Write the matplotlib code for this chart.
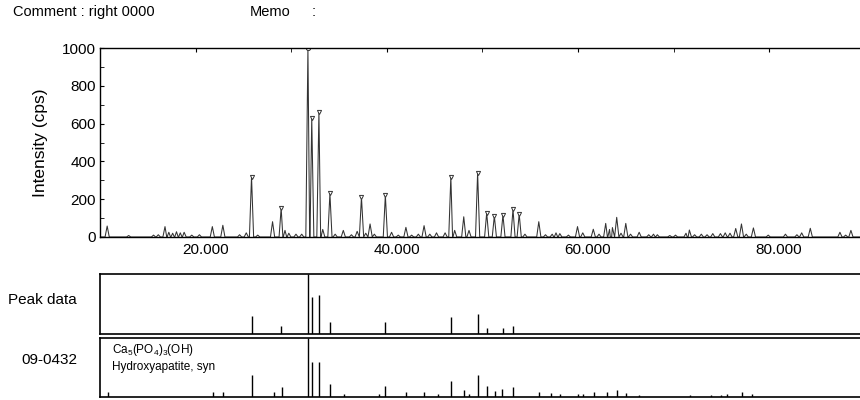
import numpy as np
import matplotlib
matplotlib.use("Agg")
import matplotlib.pyplot as plt
import matplotlib.transforms as mtransforms
from matplotlib.ticker import MultipleLocator, FuncFormatter

plt.rcParams['font.family'] = ['Liberation Sans', 'DejaVu Sans']
plt.rcParams['mathtext.fontset'] = 'custom'
plt.rcParams['mathtext.rm'] = 'Liberation Sans'
plt.rcParams['mathtext.it'] = 'Liberation Sans'

peak_pos = [10.75, 13.0, 15.6, 16.1, 16.8, 17.2, 17.6, 18.0, 18.4, 18.8, 19.6, 20.4,
            21.75, 22.85, 24.6, 25.3, 25.85, 26.5, 28.05, 28.95, 29.35, 29.75, 30.5,
            31.1, 31.75, 32.15, 32.9, 33.3, 34.05, 34.6, 35.45, 36.3, 36.9, 37.35,
            37.8, 38.25, 38.7, 39.85, 40.5, 41.2, 42.0, 42.6, 43.3, 43.9, 44.5, 45.2,
            46.1, 46.7, 47.1, 48.05, 48.6, 49.5, 50.45, 51.25, 52.15, 53.2, 53.85,
            54.45, 55.9, 56.6, 57.3, 57.7, 58.1, 59.0, 59.95, 60.5, 61.6, 62.2, 62.9,
            63.3, 63.6, 64.05, 64.5, 65.0, 65.5, 66.4, 67.4, 67.9, 68.3, 69.6, 70.2,
            71.3, 71.65, 72.2, 72.9, 73.5, 74.1, 74.9, 75.4, 75.9, 76.5, 77.1, 77.6,
            78.35, 79.9, 81.7, 82.9, 83.4, 84.3, 87.4, 88.0, 88.55]
peak_int = [58, 8, 10, 12, 55, 25, 20, 28, 22, 25, 10, 12,
            55, 62, 12, 22, 319, 10, 81, 153, 35, 20, 15,
            15, 1000, 628, 663, 40, 231, 15, 35, 12, 30, 210,
            20, 69, 15, 222, 25, 10, 51, 10, 15, 60, 15, 22,
            22, 319, 35, 107, 35, 340, 128, 111, 116, 146, 122,
            15, 81, 12, 15, 22, 18, 10, 55, 22, 41, 15, 72,
            40, 50, 104, 20, 72, 15, 25, 12, 15, 12, 8, 10,
            20, 37, 12, 15, 12, 18, 18, 22, 20, 45, 69, 15,
            48, 10, 15, 12, 22, 46, 25, 10, 35]

# peaks flagged by the search (marker on top)
marked_pos = [25.85, 28.95, 32.15, 32.9, 34.05, 37.35, 39.85, 46.7, 49.5,
              50.45, 51.25, 52.15, 53.2, 53.85]
top_peak = 31.75

# peak data panel (relative intensity)
pd_pos = [25.85, 28.95, 31.75, 32.15, 32.9, 34.05, 39.85, 46.7, 49.5, 50.45, 52.15, 53.2]
pd_int = [0.30, 0.13, 1.0, 0.61, 0.65, 0.20, 0.20, 0.28, 0.32, 0.10, 0.10, 0.12]

# card 09-0432 Hydroxyapatite
ref_pos = [10.85, 21.85, 22.9, 25.9, 28.15, 29.0, 31.8, 32.2, 32.9, 34.05, 35.5,
           39.2, 39.85, 42.05, 43.85, 45.35, 46.75, 48.1, 48.65, 49.5, 50.5, 51.3,
           52.1, 53.2, 55.9, 57.15, 58.1, 60.0, 60.5, 61.7, 63.05, 64.1, 65.05,
           66.4, 71.7, 73.9, 75.0, 75.6, 77.15, 78.25]
ref_int = [0.08, 0.07, 0.07, 0.36, 0.08, 0.16, 1.0, 0.58, 0.58, 0.22, 0.05,
           0.05, 0.18, 0.08, 0.07, 0.05, 0.27, 0.11, 0.05, 0.37, 0.18, 0.10,
           0.13, 0.16, 0.08, 0.06, 0.04, 0.05, 0.04, 0.08, 0.08, 0.11, 0.06,
           0.02, 0.03, 0.03, 0.03, 0.04, 0.08, 0.04]

xmin, xmax = 10.0, 89.5
hw = 0.22

# build the trace as narrow peaks sitting on a zero baseline
pts = [(xmin, 0), (xmax, 0)]
for p, h in zip(peak_pos, peak_int):
    pts += [(p - hw, 0), (p, h), (p + hw, 0)]
pts.sort()
tx = [a for a, b in pts]
ty = [b for a, b in pts]
lookup = dict(zip(peak_pos, peak_int))

fig = plt.figure(figsize=(8.6, 4), dpi=100)

ax = fig.add_axes([100/860, 1 - 237/400, 760/860, 189/400])
ax.plot(tx, ty, color='#333333', lw=0.75)
ax.plot(marked_pos, [lookup[p] for p in marked_pos], linestyle='none', marker='v',
        ms=3, mfc='white', mec='#333333', mew=0.7)
ax.plot([top_peak], [lookup[top_peak]], linestyle='none', marker='o',
        ms=3, mfc='white', mec='#333333', mew=0.7)
ax.set_xlim(xmin, xmax)
ax.set_ylim(0, 1000)
ax.spines['right'].set_visible(False)
for s in ['top', 'left', 'bottom']:
    ax.spines[s].set_linewidth(1.0)
    ax.spines[s].set_color('black')
ax.xaxis.set_major_locator(MultipleLocator(20))
ax.xaxis.set_minor_locator(MultipleLocator(10))
ax.xaxis.set_major_formatter(FuncFormatter(lambda v, pos: '%.3f' % v))
ax.tick_params(axis='x', which='both', bottom=False, top=True, direction='in',
               length=3, labelsize=11, pad=4)
ax.yaxis.set_major_locator(MultipleLocator(200))
ax.yaxis.set_minor_locator(MultipleLocator(100))
ax.tick_params(axis='y', which='both', direction='in', length=3, labelsize=11, pad=3)
ax.set_ylabel('Intensity (cps)', fontsize=12.5)
ax.yaxis.set_label_coords(-0.068, 0.5)
shift = mtransforms.ScaledTranslation(10/100, 0, fig.dpi_scale_trans)
for lab in ax.get_xticklabels():
    lab.set_transform(lab.get_transform() + shift)

def stick_panel(rect, pos, val):
    a = fig.add_axes(rect)
    a.vlines(pos, 0, val, color='black', lw=1.0)
    a.set_xlim(xmin, xmax)
    a.set_ylim(0, 1)
    a.spines['right'].set_visible(False)
    for s in ['top', 'left', 'bottom']:
        a.spines[s].set_linewidth(1.2)
    a.set_xticks([])
    a.set_yticks([])
    return a

ax_pd = stick_panel([100/860, 1 - 333.5/400, 760/860, 60/400], pd_pos, pd_int)
ax_ref = stick_panel([100/860, 1 - 396.5/400, 760/860, 59/400], ref_pos, ref_int)

ax_ref.text(0.016, 0.78, r'Ca$_5$(PO$_4$)$_3$(OH)', transform=ax_ref.transAxes,
            fontsize=8.5, va='center', ha='left')
ax_ref.text(0.016, 0.50, 'Hydroxyapatite, syn', transform=ax_ref.transAxes,
            fontsize=8.5, va='center', ha='left')

fig.text(77/860, 1 - 300/400, 'Peak data', fontsize=11, ha='right', va='center')
fig.text(77/860, 1 - 360/400, '09-0432', fontsize=11, ha='right', va='center')

fig.text(13/860, 1 - 12/400, 'Comment : right 0000', fontsize=10.5, ha='left', va='center')
fig.text(250/860, 1 - 12/400, 'Memo', fontsize=10.5, ha='left', va='center')
fig.text(312/860, 1 - 12/400, ':', fontsize=10.5, ha='left', va='center')

fig.savefig('out.png', dpi=100)
